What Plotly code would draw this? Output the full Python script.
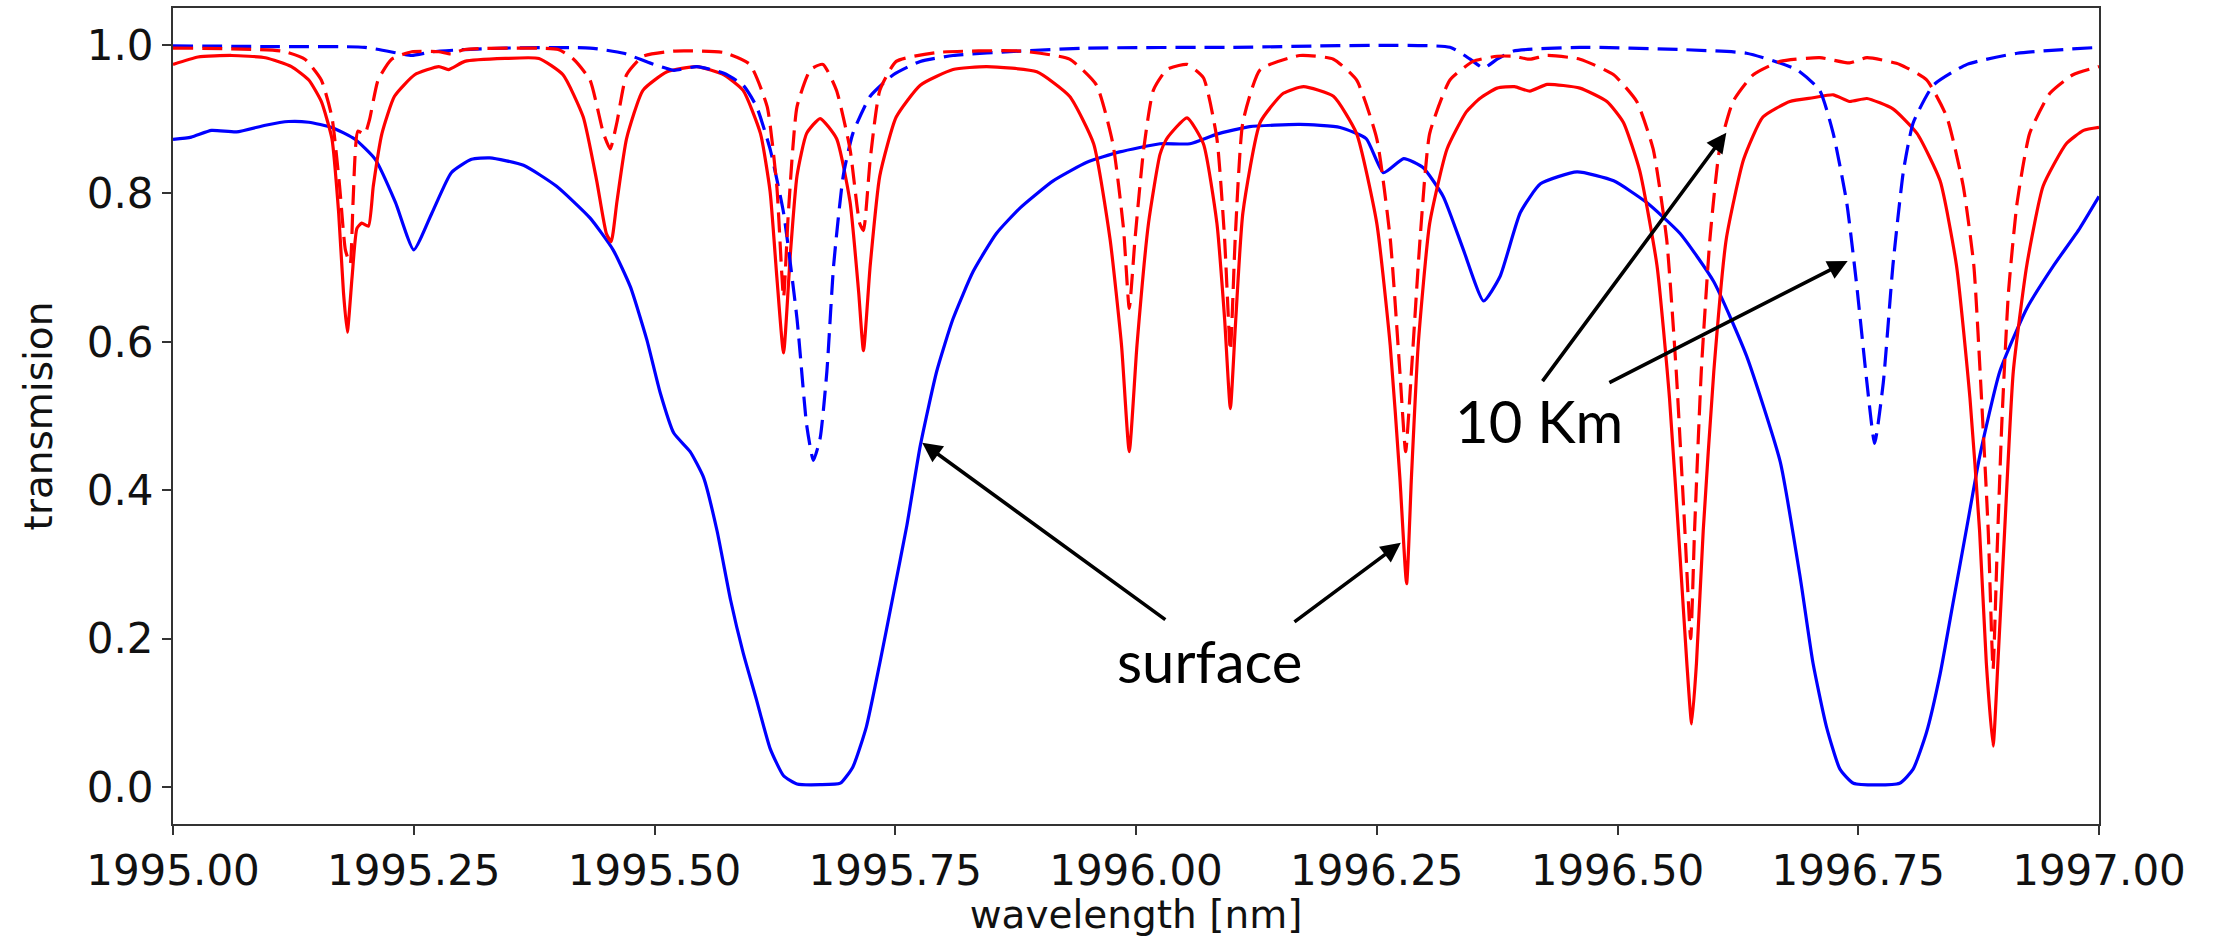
import plotly.graph_objects as go

# ---------------- data ----------------
blue_surface_x = [1995.000, 1995.019, 1995.040, 1995.066, 1995.096, 1995.120, 1995.141, 1995.165, 1995.189,
                  1995.210, 1995.231, 1995.250, 1995.269, 1995.289, 1995.310, 1995.329, 1995.364, 1995.398,
                  1995.433, 1995.457, 1995.475, 1995.492, 1995.506, 1995.520, 1995.537, 1995.551, 1995.565,
                  1995.579, 1995.592, 1995.606, 1995.620, 1995.634, 1995.648, 1995.672, 1995.693, 1995.706,
                  1995.720, 1995.734, 1995.748, 1995.762, 1995.776, 1995.793, 1995.810, 1995.831, 1995.855,
                  1995.880, 1995.914, 1995.949, 1995.983, 1996.025, 1996.056, 1996.084, 1996.118, 1996.170,
                  1996.212, 1996.239, 1996.257, 1996.278, 1996.298, 1996.319, 1996.340, 1996.361, 1996.378,
                  1996.399, 1996.420, 1996.458, 1996.496, 1996.530, 1996.565, 1996.600, 1996.634, 1996.669,
                  1996.690, 1996.703, 1996.717, 1996.731, 1996.745, 1996.793, 1996.807, 1996.821, 1996.835,
                  1996.849, 1996.863, 1996.876, 1996.897, 1996.925, 1996.953, 1996.980, 1997.000]
blue_surface_y = [0.873, 0.876, 0.885, 0.883, 0.892, 0.897, 0.896, 0.889, 0.873,
                  0.846, 0.788, 0.724, 0.774, 0.828, 0.846, 0.848, 0.838, 0.810,
                  0.767, 0.724, 0.674, 0.603, 0.531, 0.477, 0.452, 0.417, 0.345,
                  0.252, 0.181, 0.117, 0.052, 0.015, 0.004, 0.003, 0.005, 0.027,
                  0.081, 0.167, 0.259, 0.352, 0.460, 0.560, 0.631, 0.695, 0.746,
                  0.781, 0.817, 0.842, 0.856, 0.867, 0.867, 0.880, 0.890, 0.893,
                  0.889, 0.874, 0.828, 0.847, 0.835, 0.796, 0.724, 0.655, 0.688,
                  0.774, 0.813, 0.829, 0.817, 0.788, 0.746, 0.681, 0.581, 0.438,
                  0.280, 0.167, 0.081, 0.024, 0.005, 0.005, 0.024, 0.074, 0.152,
                  0.252, 0.352, 0.445, 0.560, 0.645, 0.703, 0.753, 0.796]

blue_10km_x = [1995.000, 1995.100, 1995.199, 1995.234, 1995.248, 1995.269, 1995.303, 1995.345, 1995.433,
               1995.468, 1995.495, 1995.520, 1995.544, 1995.572, 1995.592, 1995.606, 1995.620, 1995.634,
               1995.648, 1995.658, 1995.665, 1995.672, 1995.679, 1995.686, 1995.696, 1995.706, 1995.724,
               1995.748, 1995.776, 1995.810, 1995.880, 1995.950, 1996.100, 1996.326, 1996.347, 1996.361,
               1996.375, 1996.392, 1996.461, 1996.565, 1996.634, 1996.686, 1996.710, 1996.724, 1996.738,
               1996.748, 1996.759, 1996.767, 1996.776, 1996.786, 1996.797, 1996.807, 1996.828, 1996.863,
               1996.915, 1997.000]
blue_10km_y = [0.999, 0.998, 0.997, 0.989, 0.986, 0.991, 0.994, 0.996, 0.996,
               0.989, 0.976, 0.966, 0.971, 0.962, 0.946, 0.917, 0.860, 0.774,
               0.631, 0.488, 0.440, 0.470, 0.560, 0.703, 0.824, 0.881, 0.931,
               0.960, 0.978, 0.986, 0.992, 0.996, 0.997, 0.997, 0.981, 0.969,
               0.981, 0.992, 0.997, 0.994, 0.989, 0.967, 0.939, 0.881, 0.788,
               0.681, 0.545, 0.463, 0.545, 0.703, 0.831, 0.895, 0.946, 0.974,
               0.989, 0.997]

red_surface_x = [1995.000, 1995.026, 1995.061, 1995.096, 1995.123, 1995.141, 1995.154, 1995.165, 1995.172,
                 1995.177, 1995.181, 1995.186, 1995.191, 1995.196, 1995.203, 1995.208, 1995.217, 1995.230,
                 1995.251, 1995.276, 1995.286, 1995.303, 1995.345, 1995.380, 1995.405, 1995.426, 1995.440,
                 1995.450, 1995.455, 1995.461, 1995.471, 1995.488, 1995.513, 1995.544, 1995.572, 1995.592,
                 1995.610, 1995.620, 1995.627, 1995.634, 1995.641, 1995.648, 1995.658, 1995.672, 1995.689,
                 1995.703, 1995.712, 1995.717, 1995.724, 1995.734, 1995.751, 1995.776, 1995.810, 1995.845,
                 1995.897, 1995.931, 1995.956, 1995.973, 1995.985, 1995.993, 1996.001, 1996.013, 1996.025,
                 1996.032, 1996.053, 1996.070, 1996.084, 1996.092, 1996.098, 1996.103, 1996.111, 1996.129,
                 1996.153, 1996.174, 1996.205, 1996.229, 1996.250, 1996.264, 1996.274, 1996.281, 1996.286,
                 1996.293, 1996.305, 1996.323, 1996.343, 1996.357, 1996.375, 1996.393, 1996.409, 1996.427,
                 1996.461, 1996.489, 1996.506, 1996.523, 1996.541, 1996.554, 1996.565, 1996.572, 1996.577,
                 1996.582, 1996.589, 1996.600, 1996.613, 1996.631, 1996.651, 1996.679, 1996.703, 1996.724,
                 1996.741, 1996.759, 1996.786, 1996.811, 1996.835, 1996.852, 1996.866, 1996.876, 1996.883,
                 1996.890, 1996.895, 1996.902, 1996.911, 1996.925, 1996.942, 1996.966, 1996.984, 1997.000]
red_surface_y = [0.974, 0.984, 0.986, 0.983, 0.971, 0.953, 0.924, 0.874, 0.774,
                 0.667, 0.613, 0.688, 0.753, 0.760, 0.756, 0.810, 0.881, 0.931,
                 0.960, 0.971, 0.967, 0.978, 0.982, 0.982, 0.960, 0.903, 0.817,
                 0.746, 0.735, 0.789, 0.874, 0.939, 0.964, 0.971, 0.960, 0.939,
                 0.881, 0.803, 0.688, 0.585, 0.717, 0.824, 0.881, 0.901, 0.874,
                 0.789, 0.667, 0.588, 0.703, 0.824, 0.903, 0.946, 0.967, 0.971,
                 0.964, 0.931, 0.867, 0.739, 0.595, 0.452, 0.595, 0.760, 0.853,
                 0.874, 0.902, 0.867, 0.760, 0.631, 0.510, 0.617, 0.774, 0.896,
                 0.935, 0.944, 0.931, 0.881, 0.760, 0.595, 0.417, 0.274, 0.417,
                 0.595, 0.760, 0.860, 0.910, 0.928, 0.942, 0.944, 0.938, 0.947,
                 0.942, 0.924, 0.896, 0.831, 0.703, 0.524, 0.310, 0.167, 0.085,
                 0.167, 0.345, 0.560, 0.739, 0.846, 0.903, 0.924, 0.929, 0.933,
                 0.924, 0.928, 0.914, 0.881, 0.817, 0.703, 0.524, 0.345, 0.167,
                 0.055, 0.167, 0.345, 0.560, 0.703, 0.810, 0.867, 0.885, 0.889]

red_10km_x = [1995.000, 1995.113, 1995.137, 1995.154, 1995.165, 1995.173, 1995.179, 1995.184, 1995.187,
              1995.192, 1995.199, 1995.204, 1995.213, 1995.227, 1995.248, 1995.276, 1995.289, 1995.303,
              1995.400, 1995.416, 1995.433, 1995.447, 1995.454, 1995.461, 1995.471, 1995.488, 1995.520,
              1995.572, 1995.599, 1995.617, 1995.627, 1995.634, 1995.639, 1995.648, 1995.662, 1995.675,
              1995.689, 1995.703, 1995.713, 1995.717, 1995.724, 1995.734, 1995.751, 1995.793, 1995.880,
              1995.931, 1995.959, 1995.976, 1995.987, 1995.993, 1995.999, 1996.008, 1996.018, 1996.032,
              1996.053, 1996.070, 1996.084, 1996.092, 1996.098, 1996.103, 1996.111, 1996.129, 1996.170,
              1996.205, 1996.229, 1996.250, 1996.264, 1996.274, 1996.280, 1996.286, 1996.295, 1996.305,
              1996.326, 1996.350, 1996.375, 1996.392, 1996.409, 1996.427, 1996.461, 1996.496, 1996.520,
              1996.537, 1996.551, 1996.561, 1996.570, 1996.576, 1996.580, 1996.587, 1996.596, 1996.606,
              1996.620, 1996.641, 1996.669, 1996.710, 1996.741, 1996.759, 1996.793, 1996.821, 1996.842,
              1996.859, 1996.870, 1996.878, 1996.885, 1996.890, 1996.894, 1996.899, 1996.906, 1996.915,
              1996.928, 1996.949, 1996.973, 1997.000]
red_10km_y = [0.996, 0.992, 0.981, 0.953, 0.903, 0.810, 0.724, 0.705, 0.789,
              0.884, 0.880, 0.899, 0.953, 0.981, 0.991, 0.991, 0.988, 0.994,
              0.994, 0.981, 0.953, 0.881, 0.860, 0.896, 0.960, 0.985, 0.992,
              0.990, 0.974, 0.917, 0.810, 0.660, 0.774, 0.917, 0.967, 0.974,
              0.939, 0.860, 0.760, 0.750, 0.846, 0.939, 0.978, 0.990, 0.992,
              0.981, 0.946, 0.867, 0.753, 0.645, 0.739, 0.860, 0.939, 0.967,
              0.974, 0.956, 0.874, 0.739, 0.588, 0.739, 0.896, 0.967, 0.986,
              0.981, 0.953, 0.874, 0.739, 0.560, 0.452, 0.560, 0.739, 0.881,
              0.953, 0.978, 0.985, 0.985, 0.981, 0.986, 0.981, 0.960, 0.924,
              0.860, 0.739, 0.560, 0.345, 0.200, 0.345, 0.560, 0.739, 0.860,
              0.924, 0.960, 0.978, 0.983, 0.976, 0.983, 0.974, 0.953, 0.903,
              0.810, 0.703, 0.524, 0.345, 0.159, 0.310, 0.488, 0.667, 0.788,
              0.881, 0.935, 0.960, 0.971]

x_ticks = [1995.00, 1995.25, 1995.50, 1995.75, 1996.00, 1996.25, 1996.50, 1996.75, 1997.00]
y_ticks = [0.0, 0.2, 0.4, 0.6, 0.8, 1.0]

# annotation anchors (data coordinates): label, text position, arrow heads / tails
surface_label = ("surface", 1996.076, 0.170)
surface_arrows = [((1995.778, 0.464), (1996.032, 0.224)),
                  ((1996.275, 0.329), (1996.163, 0.221))]
km_label = ("10 Km", 1996.418, 0.494)
km_arrows = [((1996.613, 0.882), (1996.421, 0.545)),
             ((1996.739, 0.709), (1996.490, 0.544))]

# ---------------- figure ----------------
BLUE = "#0000ff"
RED = "#ff0000"
LW = 3.2
DASH = "20px,9px"
SMOOTH = dict(shape="spline", smoothing=0.5)

fig = go.Figure()
fig.add_trace(go.Scatter(x=blue_surface_x, y=blue_surface_y, mode="lines",
                         line=dict(color=BLUE, width=LW, **SMOOTH), name="surface (blue)"))
fig.add_trace(go.Scatter(x=red_surface_x, y=red_surface_y, mode="lines",
                         line=dict(color=RED, width=LW, **SMOOTH), name="surface (red)"))
fig.add_trace(go.Scatter(x=blue_10km_x, y=blue_10km_y, mode="lines",
                         line=dict(color=BLUE, width=LW, dash=DASH, **SMOOTH), name="10 Km (blue)"))
fig.add_trace(go.Scatter(x=red_10km_x, y=red_10km_y, mode="lines",
                         line=dict(color=RED, width=LW, dash=DASH, **SMOOTH), name="10 Km (red)"))

annotations = []
for (label, lx, ly), arrows in ((surface_label, surface_arrows), (km_label, km_arrows)):
    annotations.append(dict(x=lx, y=ly, xref="x", yref="y", text=label, showarrow=False,
                            font=dict(family="Lato", size=58, color="black")))
    for (hx, hy), (tx, ty) in arrows:
        annotations.append(dict(x=hx, y=hy, xref="x", yref="y", ax=tx, ay=ty,
                                axref="x", ayref="y", text="", showarrow=True,
                                arrowhead=2, arrowsize=1.1, arrowwidth=3.6,
                                arrowcolor="black", standoff=0))

tick_font = dict(family="DejaVu Sans", size=42, color="#111111")
title_font = dict(family="DejaVu Sans", size=39, color="#111111")
fig.update_layout(
    width=2227, height=937,
    margin=dict(l=173, r=128, t=6, b=112),
    paper_bgcolor="white", plot_bgcolor="white",
    showlegend=False,
    annotations=annotations,
    xaxis=dict(range=[1995, 1997], tickvals=x_ticks, tickformat=".2f",
               showgrid=False, zeroline=False, showline=True, mirror=True,
               linecolor="#333333", linewidth=2, ticks="outside", ticklen=9,
               tickwidth=2, tickcolor="#333333", tickfont=tick_font,
               title=dict(text="wavelength [nm]", font=title_font, standoff=8)),
    yaxis=dict(range=[-0.05, 1.05], tickvals=y_ticks, tickformat=".1f",
               showgrid=False, zeroline=False, showline=True, mirror=True,
               linecolor="#333333", linewidth=2, ticks="outside", ticklen=9,
               tickwidth=2, tickcolor="#333333", tickfont=tick_font,
               title=dict(text="transmision", font=title_font, standoff=22)),
)

fig.write_html("out.html")
